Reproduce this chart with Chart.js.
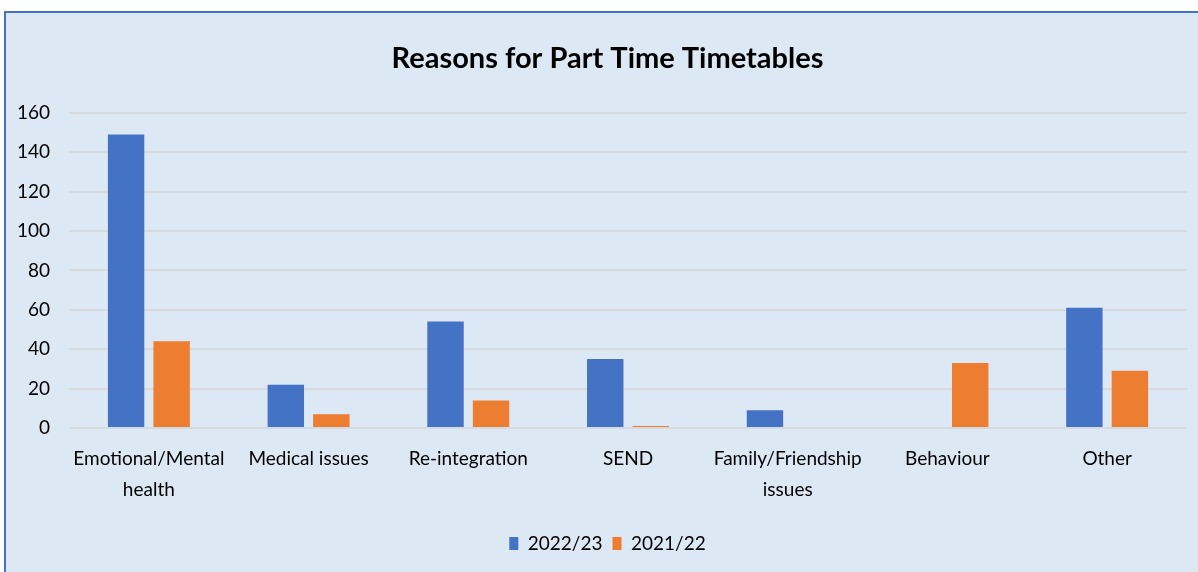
<!DOCTYPE html>
<html>
<head>
<meta charset="utf-8">
<script src="https://cdn.jsdelivr.net/npm/chart.js@4"></script>
<style>
  html, body { margin: 0; padding: 0; background: #fff; overflow: hidden; }
  #marco {
    position: absolute; left: 4px; top: 11px;
    width: 1203px; height: 570px;
    border-left: 2px solid #4472c4; border-top: 2px solid #4472c4;
    background: #dde8f5;
  }
  #grafico { display: block; }
</style>
</head>
<body>
<div id="marco"><canvas id="grafico" width="1203" height="550"></canvas></div>
<script>
const categorias = [
  ['Emotional/Mental', 'health'], 'Medical issues', 'Re-integration', 'SEND',
  ['Family/Friendship', 'issues'], 'Behaviour', 'Other'
];
const serie2223 = [149, 22, 54, 35, 9, 0, 61];
const serie2122 = [44, 7, 14, 1, 0, 33, 29];
const ticksY = [0, 20, 40, 60, 80, 100, 120, 140, 160];

const fuente = 'Lato, "Noto Sans", sans-serif';

new Chart(document.getElementById('grafico'), {
  type: 'bar',
  data: {
    labels: categorias,
    datasets: [
      { label: '2022/23', data: serie2223, backgroundColor: '#4472c4', barPercentage: 0.8, categoryPercentage: 0.57 },
      { label: '2021/22', data: serie2122, backgroundColor: '#ed7d31', barPercentage: 0.8, categoryPercentage: 0.57 }
    ]
  },
  options: {
    responsive: false,
    animation: false,
    layout: { padding: 0 },
    plugins: {
      title: {
        display: true,
        text: 'Reasons for Part Time Timetables',
        color: '#000',
        font: { family: fuente, size: 29, weight: 'bold' },
        padding: { top: 28, bottom: 37 }
      },
      legend: {
        position: 'bottom',
        labels: {
          color: '#000',
          font: { family: fuente, size: 19 },
          boxWidth: 9, boxHeight: 13, padding: 10
        }
      },
      tooltip: { enabled: false }
    },
    scales: {
      x: {
        grid: { display: false, drawTicks: false },
        border: { display: false },
        ticks: {
          color: '#000', padding: 15, maxRotation: 0, autoSkip: false,
          font: { family: fuente, size: 19, lineHeight: 1.65 }
        },
        afterFit: (s) => { s.height = 96; }
      },
      y: {
        min: 0, max: 160,
        afterBuildTicks: (s) => { s.ticks = ticksY.map(v => ({ value: v })); },
        grid: { color: '#d6d9dd', lineWidth: 2, drawTicks: false },
        border: { display: false },
        ticks: {
          color: '#000', padding: 19,
          font: { family: fuente, size: 19 }
        },
        afterFit: (s) => { s.width = 63; }
      },
      // margen derecho vacio, para que titulo y leyenda queden centrados en todo el lienzo
      margen: {
        position: 'right',
        min: 0, max: 160,
        grid: { drawOnChartArea: false, drawTicks: false },
        border: { display: false },
        ticks: { display: false },
        afterFit: (s) => { s.width = 22; }
      }
    }
  }
});
</script>
</body>
</html>
